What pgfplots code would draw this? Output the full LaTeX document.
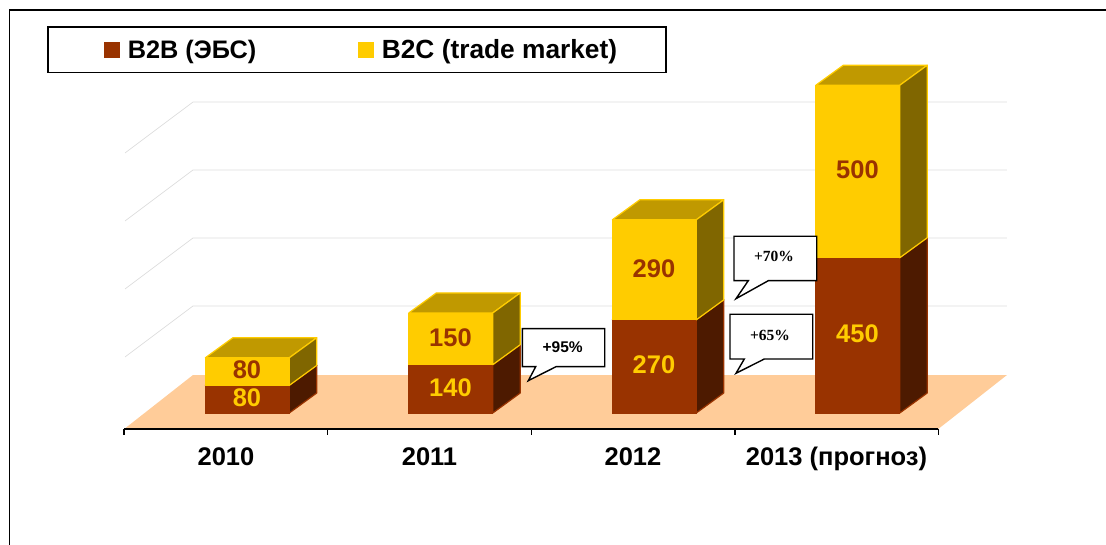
\documentclass[border=0pt]{standalone}
\usepackage{pgfplots}
\pgfplotsset{compat=1.18}
\usepackage{fontspec}
\setmainfont{Liberation Sans}
\newfontfamily\tnr{Liberation Serif}
\definecolor{brownF}{HTML}{993300}
\definecolor{brownS}{HTML}{4D1A00}
\definecolor{yelF}{HTML}{FFCC00}
\definecolor{yelS}{HTML}{806600}
\definecolor{yelT}{HTML}{C09900}
\definecolor{floorc}{HTML}{FFCC99}
\definecolor{gridc}{HTML}{DDDDDD}
\newcommand\bigf{\fontsize{25.5}{30}\selectfont\bfseries}
% one stacked segment: category, from, to, front, side, top, edge, text colour, shown value
\newcommand\seg[9]{%
  \pgfmathsetmacro\xl{#1-0.1015}\pgfmathsetmacro\xr{#1+0.3110}%
  \pgfmathsetmacro\xL{\xl+0.1351}\pgfmathsetmacro\xR{\xr+0.1351}%
  \pgfmathsetmacro\ya{#2}\pgfmathsetmacro\yb{#3}%
  \pgfmathsetmacro\yA{#2+58}\pgfmathsetmacro\yB{#3+58}%
  \pgfmathsetmacro\xc{#1+0.1032}\pgfmathsetmacro\yc{(#2+#3)/2}%
  \edef\tmp{%
    \noexpand\addplot[forget plot,mark=none,fill=#6,draw=#7,line width=1.2pt,line join=round] coordinates {(\xl,\yb)(\xr,\yb)(\xR,\yB)(\xL,\yB)} -- cycle;
    \noexpand\addplot[forget plot,mark=none,fill=#5,draw=#7,line width=1.2pt,line join=round] coordinates {(\xr,\ya)(\xR,\yA)(\xR,\yB)(\xr,\yb)} -- cycle;
    \noexpand\addplot[forget plot,mark=none,fill=#4,draw=#4,line width=.8pt] coordinates {(\xl,\ya)(\xr,\ya)(\xr,\yb)(\xl,\yb)} -- cycle;
    \noexpand\node[text=#8,font=\noexpand\bigf,yshift=1.5pt] at (axis cs:\xc,\yc) {#9};
  }\tmp}
\newcommand\stackbar[3]{%
  \seg{#1}{0}{#2}{brownF}{brownS}{brownF}{brownF}{yelF}{#2}%
  \pgfmathsetmacro\tot{#2+#3}%
  \edef\tmpb{\noexpand\seg{#1}{#2}{\tot}{yelF}{yelS}{yelT}{yelF}{brownF}{#3}}\tmpb}
\begin{document}
\begin{tikzpicture}
\begin{axis}[
  scale only axis, width=814pt, height=429pt,
  xmin=-0.5, xmax=3.5, ymin=-46.4, ymax=1197.1,
  clip=false, axis on top,
  axis x line=bottom, axis y line=none,
  axis line style={-,black,line width=1.5pt},
  xtick={0,1,2,3},
  xticklabels={2010,2011,2012,2013 (прогноз)},
  major tick length=0pt,
  minor xtick={-0.5,0.5,1.5,2.5,3.5},
  minor tick length=6pt,
  tick align=outside,
  tick style={black,line width=1.5pt},
  minor tick style={black,line width=1.5pt},
  xticklabel style={font=\bigf,text height=18pt,text depth=6pt,anchor=north,yshift=-15pt},
  legend style={at={(axis cs:-0.88,1121.7)},anchor=north west,draw=black,line width=1.7pt,
    legend columns=2,inner xsep=47pt,inner ysep=10.5pt,font=\fontsize{25.3}{30}\selectfont\bfseries,
    /tikz/every even column/.style={column sep=90.5pt}},
  legend cell align=left,
  legend image code/.code={\path[draw=none,fill=none] (0pt,0pt) (31pt,0pt);\fill[#1,draw=none] (9pt,-8pt) rectangle (25pt,8pt);},
]
% floor
\addplot[forget plot,mark=none,fill=floorc,draw=none] coordinates {(-0.5,-46.4)(-0.1622,110.1)(3.8378,110.1)(3.5,-46.4)} -- cycle;
% back grid
\addplot[forget plot,mark=none,draw=gridc,line width=.7pt] coordinates {(-0.4963,162.3)(-0.1622,310.1)(3.8378,310.1)};
\addplot[forget plot,mark=none,draw=gridc,line width=.7pt] coordinates {(-0.4963,359.4)(-0.1622,507.3)(3.8378,507.3)};
\addplot[forget plot,mark=none,draw=gridc,line width=.7pt] coordinates {(-0.4963,556.5)(-0.1622,704.3)(3.8378,704.3)};
\addplot[forget plot,mark=none,draw=gridc,line width=.7pt] coordinates {(-0.4963,753.6)(-0.1622,901.4)(3.8378,901.4)};
% bars
\stackbar{0}{80}{80}
\stackbar{1}{140}{150}
\stackbar{2}{270}{290}
\stackbar{3}{450}{500}
\addlegendimage{fill=brownF}
\addlegendentry{B2B (ЭБС)}
\addlegendimage{fill=yelF}
\addlegendentry{\fontsize{26.3}{30}\selectfont B2C (trade market)}
\end{axis}
\begin{scope}[shift={(-124.25pt,429pt)},x=1pt,y=-1pt]
  \draw[black,line width=1.8pt] (9.5,545) -- (9.5,10) -- (1106,10);
  \draw[black,line width=1.4pt,fill=white,line join=miter]
    (522.3,328.7) -- (604.7,328.7) -- (604.7,366.7) -- (556,366.7) -- (528.3,380.7) -- (535.7,366.7) -- (522.3,366.7) -- cycle;
  \node[font=\fontsize{15.5}{18}\selectfont\bfseries] at (562.7,346.7) {+95\%};
  \draw[black,line width=1.4pt,fill=white,line join=miter]
    (734,236.3) -- (816.7,236.3) -- (816.7,280.7) -- (768.3,280.7) -- (736,298.7) -- (748.3,280.7) -- (734,280.7) -- cycle;
  \node[font=\fontsize{15.5}{18}\selectfont\tnr\bfseries] at (774,256.7) {+70\%};
  \draw[black,line width=1.4pt,fill=white,line join=miter]
    (730,314.3) -- (812.7,314.3) -- (812.7,359) -- (764.3,359) -- (736,373.3) -- (744.3,359) -- (730,359) -- cycle;
  \node[font=\fontsize{15.5}{18}\selectfont\tnr\bfseries] at (770,335.7) {+65\%};
  \pgfresetboundingbox
  \path[use as bounding box] (0,0) rectangle (1106,545);
\end{scope}
\end{tikzpicture}
\end{document}
